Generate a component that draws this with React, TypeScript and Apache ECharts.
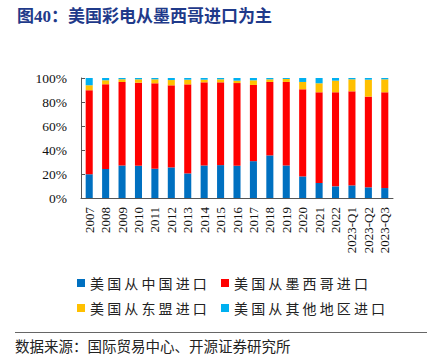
import React, { useEffect, useRef } from "react";
import * as echarts from "echarts";

const categories = ["2007","2008","2009","2010","2011","2012","2013","2014","2015","2016","2017","2018","2019","2020","2021","2022","2023-Q1","2023-Q2","2023-Q3"];
const chinaShare = [19.7,24.1,27.1,26.9,24.4,25.5,20.5,27.1,27.4,26.9,30.7,35.5,27.1,18.0,12.5,9.7,10.5,8.9,8.3];
const mexicoShare = [70.0,70.6,69.6,69.2,71.2,68.4,74.2,69.3,69.0,68.9,63.5,61.2,69.6,72.6,75.6,78.4,78.4,75.6,79.8];
const aseanShare = [4.2,3.4,2.2,2.8,3.3,4.4,3.9,2.2,2.5,2.0,3.9,2.2,2.5,6.1,7.5,9.7,10.0,14.1,10.8];
const otherShare = [6.1,1.9,1.1,1.1,1.1,1.7,1.4,1.4,1.1,2.2,1.9,1.1,0.8,3.3,4.4,2.2,1.1,1.4,1.1];
const seriesNames = ["美国从中国进口","美国从墨西哥进口","美国从东盟进口","美国从其他地区进口"];
const seriesColors = ["#0070C0","#FF0000","#FFC000","#00B0F0"];
const yTicks = [0, 20, 40, 60, 80, 100];

const serif = "'Liberation Serif', 'Times New Roman', serif";
const cjk = "'Liberation Serif', 'Noto Sans CJK SC', sans-serif";

export default function App() {
  const ref = useRef<HTMLDivElement>(null);
  useEffect(() => {
    if (!ref.current) return;
    const chart = echarts.init(ref.current, null, { renderer: "svg" });
    const data = [chinaShare, mexicoShare, aseanShare, otherShare];
    const legendPos = [
      { left: 77, top: 276 },
      { left: 221, top: 276 },
      { left: 77, top: 301 },
      { left: 221, top: 301 },
    ];
    chart.setOption({
      animation: false,
      grid: { left: 81, right: 41, top: 78, bottom: 163, containLabel: false },
      legend: seriesNames.map((n, i) => ({
        data: [n],
        left: legendPos[i].left,
        top: legendPos[i].top,
        itemWidth: 8,
        itemHeight: 8,
        icon: "rect",
        padding: 0,
        formatter: (name: string) => name.split("").join(" "),
        textStyle: { fontFamily: "'Noto Sans CJK SC', sans-serif", fontSize: 14, color: "#222" },
      })),
      xAxis: {
        type: "category",
        data: categories,
        axisLine: { lineStyle: { color: "#555", width: 1 } },
        axisTick: { inside: true, length: 5, lineStyle: { color: "#555" } },
        axisLabel: { rotate: 90, fontFamily: serif, fontSize: 13, color: "#111", margin: 9, interval: 0 },
      },
      yAxis: {
        type: "value",
        min: 0,
        max: 100,
        interval: 20,
        axisLine: { show: true, lineStyle: { color: "#555", width: 1 } },
        axisTick: { show: true, inside: true, length: 4, lineStyle: { color: "#555" } },
        splitLine: { show: false },
        axisLabel: {
          fontFamily: serif,
          fontSize: 13.5,
          color: "#111",
          margin: 14,
          formatter: (v: number) => (yTicks.includes(v) ? v + "%" : ""),
        },
      },
      series: seriesNames.map((n, i) => ({
        name: n,
        type: "bar",
        stack: "total",
        barWidth: "43%",
        data: data[i],
        itemStyle: { color: seriesColors[i] },
      })),
      graphic: [
        {
          type: "text",
          left: 17,
          top: 8,
          style: {
            text: "图40：美国彩电从墨西哥进口为主",
            font: `bold 17px ${cjk}`,
            fill: "#1F3A8A",
          },
        },
        {
          type: "line",
          shape: { x1: 15, y1: 332.5, x2: 427, y2: 332.5 },
          style: { stroke: "#666", lineWidth: 1 },
        },
        {
          type: "text",
          left: 15,
          top: 338,
          style: {
            text: "数据来源：国际贸易中心、开源证券研究所",
            font: `14.5px 'Noto Sans CJK SC', sans-serif`,
            fill: "#222",
          },
        },
      ],
    });
    return () => chart.dispose();
  }, []);
  return <div ref={ref} style={{ width: 434, height: 361, position: "absolute", left: 0, top: 0, background: "#fff" }} />;
}
